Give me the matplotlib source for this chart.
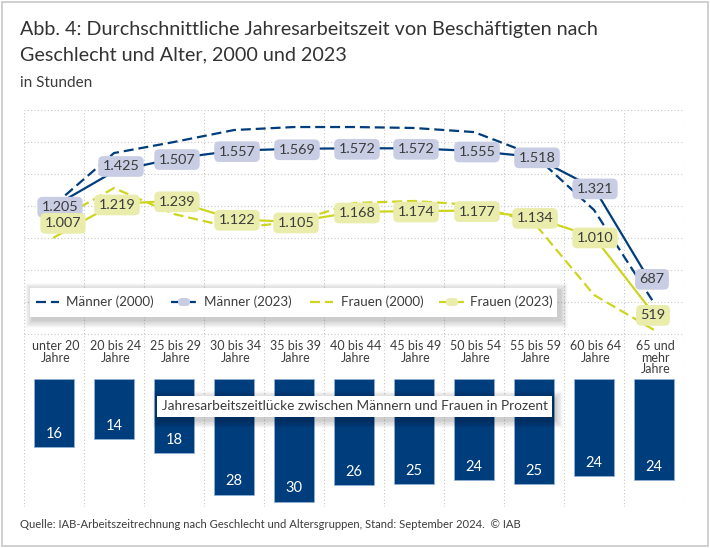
import numpy as np
import matplotlib
matplotlib.use('Agg')
import matplotlib.pyplot as plt
from matplotlib.patches import FancyBboxPatch, Rectangle

plt.rcParams['font.family'] = ['Lato', 'DejaVu Sans']

W, H = 710, 548

altersgruppen = ['unter 20\nJahre', '20 bis 24\nJahre', '25 bis 29\nJahre', '30 bis 34\nJahre',
                 '35 bis 39\nJahre', '40 bis 44\nJahre', '45 bis 49\nJahre', '50 bis 54\nJahre',
                 '55 bis 59\nJahre', '60 bis 64\nJahre', '65 und\nmehr\nJahre']
maenner_2000 = [1212, 1542, 1612, 1688, 1707, 1707, 1701, 1675, 1530, 1181, 591]
maenner_2023 = [1205, 1425, 1507, 1557, 1569, 1572, 1572, 1555, 1518, 1321, 687]
frauen_2000 = [1105, 1320, 1155, 1066, 1105, 1225, 1238, 1212, 1100, 642, 420]
frauen_2023 = [1007, 1219, 1239, 1122, 1105, 1168, 1174, 1177, 1134, 1010, 519]
luecke = [16.4, 14.5, 17.8, 27.9, 29.6, 25.7, 25.3, 24.3, 25.3, 23.5, 24.5]

# Label-Versatz in Pixeln, damit sich die Kästchen nicht überlappen
m_dx = [6, 7, 3, 3, 3, 3, 2, 3, 3, 1, -2]
m_dy = [0, -6, 0, 0, 0, 0, 0, 0, 0, 0, -9.5]
f_dx = [9, 3, 3, 3, 2, 3, 2, 3, 1, 1, -1]
f_dy = [-15, 0, 0, 0, 0, 0, 0, 0, 0, 0, 0]

DUNKELBLAU = '#003d7c'
HELLBLAU = '#c8cde3'
GELB = '#cdd520'
HELLGELB = '#e9ecaa'
TEXT = '#3c3c3c'
GRID = '#c8c8c8'
STRICH = (0, (4.5, 2.2))

fig = plt.figure(figsize=(W / 100, H / 100), dpi=100)


def px_axes(x0, y0, x1, y1, **kw):
    return fig.add_axes([x0 / W, 1 - y1 / H, (x1 - x0) / W, (y1 - y0) / H], **kw)


# Linien
ax = px_axes(24, 110, 684, 507)
x = np.arange(len(altersgruppen))
ax.set_xlim(-0.5, 10.5)
ax.set_ylim(-703, 1815)
ax.set_yticks([1815, 1612, 1409, 1206, 1003, 800, 597, 394, -703])
ax.set_xticks(np.arange(-0.5, 11))
ax.tick_params(length=0, labelleft=False, labelbottom=False)
ax.grid(True, color=GRID, linestyle=(0, (1, 2)), linewidth=0.8)
ax.set_axisbelow(True)
for s in ax.spines.values():
    s.set_visible(False)

ax.plot(x, maenner_2000, color=DUNKELBLAU, lw=1.6, ls=STRICH, zorder=3)
ax.plot(x, frauen_2000, color=GELB, lw=1.6, ls=STRICH, zorder=3)
ax.plot(x, maenner_2023, color=DUNKELBLAU, lw=1.6, zorder=3)
ax.plot(x, frauen_2023, color=GELB, lw=1.6, zorder=3)


def wert(v):
    s = str(v)
    return s if v < 1000 else s[0] + '.' + s[1:]


def labels(werte, dxs, dys, farbe):
    for i, v in enumerate(werte):
        ax.annotate(wert(v), (i, v), xytext=(dxs[i] * 0.72, -dys[i] * 0.72), textcoords='offset points',
                    ha='center', va='center_baseline', fontsize=10.4, color=TEXT, zorder=5,
                    bbox=dict(boxstyle='round,pad=0.3,rounding_size=0.35', fc=farbe, ec='none'))


labels(maenner_2023, m_dx, m_dy, HELLBLAU)
labels(frauen_2023, f_dx, f_dy, HELLGELB)

for i, name in enumerate(altersgruppen):
    ax.annotate(name, (i, 0), xycoords=('data', 'axes fraction'), xytext=(1, 169 * 0.72 - 0.72 * 2),
                textcoords='offset points', ha='center', va='top', fontsize=9, color=TEXT,
                linespacing=0.95, zorder=3)

# Balken
ax2 = px_axes(24, 379, 684, 507)
ax2.patch.set_alpha(0)
balken = ax2.bar(x + 0.005, luecke, width=0.665, color=DUNKELBLAU, edgecolor='#8fb0d4', linewidth=0.6)
ax2.set_xlim(-0.5, 10.5)
ax2.set_ylim(128 / 4.14, 0)
ax2.axis('off')
for i, v in enumerate(luecke):
    ax2.annotate(f'{v:.0f}', (i, v), xytext=(0, 10.5), textcoords='offset points', ha='center',
                 va='center_baseline', color='white', fontsize=10.5)

# Rahmen, Titel, Legende in Pixelkoordinaten
deko = px_axes(0, 0, W, H, zorder=10)
deko.set_xlim(0, W)
deko.set_ylim(H, 0)
deko.axis('off')
deko.patch.set_alpha(0)
deko.add_patch(Rectangle((1.5, 2), 706.5, 544, fc='none', ec='#c8c8c8', lw=1.2))

deko.text(20, 29.5, 'Abb. 4: Durchschnittliche Jahresarbeitszeit von Beschäftigten nach', fontsize=14.25, color='#333333', va='center')
deko.text(20, 55, 'Geschlecht und Alter, 2000 und 2023', fontsize=14.25, color='#333333', va='center')
deko.text(20, 83, 'in Stunden', fontsize=11, color=TEXT, va='center')
deko.text(20, 525, 'Quelle: IAB-Arbeitszeitrechnung nach Geschlecht und Altersgruppen, Stand: September 2024.  © IAB',
          fontsize=8.1, color=TEXT, va='center')


def schatten_box(x0, y0, x1, y1):
    for k in range(10, 0, -1):
        deko.add_patch(Rectangle((x0 + 3 - k * 0.8, y0 + 3 - k * 0.8), x1 - x0 + 1.6 * k, y1 - y0 + 1.6 * k,
                                 fc='#000000', ec='none', alpha=0.02))
    deko.add_patch(Rectangle((x0, y0), x1 - x0, y1 - y0, fc='white', ec='none'))


schatten_box(30, 288, 557, 317)
LEG_Y = 302
for x0, x1, farbe, marker, tx, name in [(36, 59, DUNKELBLAU, None, 66, 'Männer (2000)'),
                                        (171, 197, DUNKELBLAU, HELLBLAU, 204, 'Männer (2023)'),
                                        (310, 333, GELB, None, 341, 'Frauen (2000)'),
                                        (439, 465, GELB, HELLGELB, 470, 'Frauen (2023)')]:
    deko.plot([x0, x1], [LEG_Y, LEG_Y], color=farbe, lw=1.6, ls=STRICH)
    if marker:
        deko.add_patch(FancyBboxPatch(((x0 + x1) / 2 - 5, LEG_Y - 3), 10, 6, boxstyle='round,pad=1,rounding_size=4',
                                      fc=marker, ec='none', zorder=4))
    deko.text(tx, LEG_Y, name, fontsize=9.6, color=TEXT, va='center')

schatten_box(157, 396, 552, 417)
deko.text(162, 406.5, 'Jahresarbeitszeitlücke zwischen Männern und Frauen in Prozent', fontsize=9.85, color=TEXT, va='center')

fig.savefig('out.png', dpi=100)
